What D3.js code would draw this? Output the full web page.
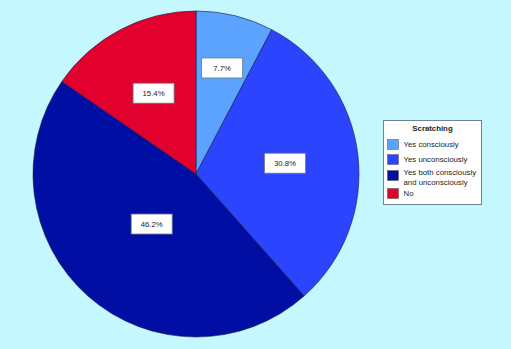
<!DOCTYPE html>
<html>
<head>
<meta charset="utf-8">
<script src="https://cdn.jsdelivr.net/npm/d3@7"></script>
<style>
  body { margin: 0; background: #c4f8fe; }
  svg { display: block; font-family: "Liberation Sans", Arial, sans-serif; }
</style>
</head>
<body>
<script>
// data
var categories = ["Yes consciously", "Yes unconsciously", "Yes both consciously and unconsciously", "No"];
var legendLines = [["Yes consciously"], ["Yes unconsciously"], ["Yes both consciously", "and unconsciously"], ["No"]];
var percents = [7.7, 30.8, 46.2, 15.4];
var colors = ["#5ba3fe", "#2b44fd", "#000ea3", "#e2002f"];
// label distance from centre, as a share of the radius
var labelPos = [0.67, 0.55, 0.41, 0.56];

var width = 511, height = 349;
var cx = 196, cy = 174, radius = 163;

var svg = d3.select("body").append("svg")
  .attr("width", width)
  .attr("height", height);

var pie = d3.pie().sort(null).value(function(d) { return d; });
var arcs = pie(percents);

var arc = d3.arc().innerRadius(0).outerRadius(radius);

var g = svg.append("g")
  .attr("transform", `translate(${cx}, ${cy})`);

g.selectAll("path")
  .data(arcs)
  .enter()
  .append("path")
  .attr("d", arc)
  .attr("fill", function(d, i) { return colors[i]; })
  .attr("stroke", "#1a1a40")
  .attr("stroke-width", 0.6);

// labels
var lbl = g.selectAll("g.lbl")
  .data(arcs)
  .enter()
  .append("g")
  .attr("class", "lbl")
  .attr("transform", function(d, i) {
    var a = d3.arc().innerRadius(radius * labelPos[i]).outerRadius(radius * labelPos[i]);
    var c = a.centroid(d);
    return `translate(${c[0]}, ${c[1]})`;
  });

lbl.append("rect")
  .attr("x", -20.5).attr("y", -10)
  .attr("width", 41).attr("height", 20)
  .attr("fill", "#fff")
  .attr("stroke", "#6c7a8a")
  .attr("stroke-width", 0.8);

lbl.append("text")
  .attr("text-anchor", "middle")
  .attr("dy", "0.35em")
  .attr("font-size", 7.8)
  .attr("fill", "#222")
  .text(function(d) { return d.data.toFixed(1) + "%"; });

// legend
var lg = svg.append("g").attr("transform", "translate(383.5, 120.5)");
lg.append("rect")
  .attr("width", 98).attr("height", 84)
  .attr("fill", "#fff")
  .attr("stroke", "#6c8590")
  .attr("stroke-width", 1);

lg.append("text")
  .attr("x", 49).attr("y", 10.5)
  .attr("text-anchor", "middle")
  .attr("font-size", 7.8)
  .attr("font-weight", "bold")
  .attr("fill", "#222")
  .text("Scratching");

var rowY = [19, 34, 50, 68];
var items = lg.selectAll("g.item")
  .data(categories)
  .enter()
  .append("g")
  .attr("class", "item")
  .attr("transform", function(d, i) { return `translate(4, ${rowY[i]})`; });

items.append("rect")
  .attr("width", 11).attr("height", 10)
  .attr("fill", function(d, i) { return colors[i]; })
  .attr("stroke", "#555")
  .attr("stroke-width", 0.5);

items.each(function(d, i) {
  var t = d3.select(this).append("text")
    .attr("font-size", 7.8)
    .attr("fill", "#222");
  legendLines[i].forEach(function(line, j) {
    t.append("tspan")
      .attr("x", 16)
      .attr("y", (legendLines[i].length > 1 ? 4.5 : 7.5) + j * 10)
      .text(line);
  });
});
</script>
</body>
</html>
